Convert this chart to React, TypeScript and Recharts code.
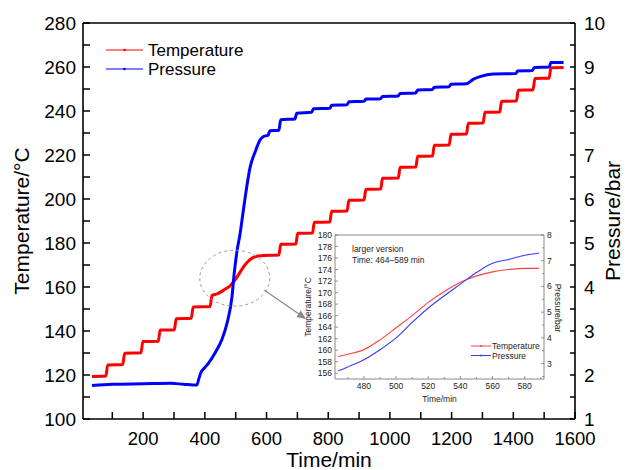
import React from 'react';
import { LineChart, Line, XAxis, YAxis, ReferenceLine, ReferenceDot } from 'recharts';

const FONT = '"Liberation Sans", Arial, Helvetica, sans-serif';

// main chart: temperature (°C) vs time (min)
const tempTime = [
  34, 79, 85, 134, 140, 193, 199, 249, 255, 301, 307, 356, 362, 417, 423,
  440, 455, 470, 480, 490, 500, 510, 520, 530, 540, 550, 560, 575, 590,
  640, 646, 695, 701, 749, 755, 805, 811, 861, 867, 916, 922, 970, 976, 1027, 1033,
  1084, 1090, 1138, 1144, 1192, 1198, 1248, 1254, 1302, 1308, 1356, 1362, 1410, 1416,
  1464, 1470, 1516, 1522, 1563,
];
const tempValue = [
  119.3, 119.5, 124.6, 124.8, 129.9, 130.1, 135.2, 135.3, 140.4, 140.5, 145.6, 145.8, 150.9, 151.1, 156.1,
  156.9, 158.0, 159.4, 160.3, 161.8, 163.6, 165.8, 168.0, 170.0, 171.6, 172.8, 173.6, 174.1, 174.3,
  174.5, 179.4, 179.5, 184.4, 184.5, 189.4, 189.5, 194.4, 194.5, 199.4, 199.5, 204.4, 204.5, 209.4, 209.5,
  214.4, 214.5, 219.4, 219.5, 224.4, 224.5, 229.4, 229.5, 234.4, 234.5, 239.4, 239.5, 244.4, 244.5,
  249.4, 249.6, 254.8, 254.9, 259.7, 259.8,
];

// main chart: pressure (bar) vs time (min)
const pressTime = [
  34, 100, 200, 290, 330, 374,
  380, 387, 400, 412, 433, 455, 472, 488, 495, 505, 514, 522, 530, 547, 563, 579, 590, 605, 611,
  640, 646, 692, 698, 746, 752, 805, 811, 861, 867, 916, 922, 970, 976, 1027, 1033,
  1084, 1090, 1138, 1144, 1192, 1198,
  1248, 1270, 1292, 1335,
  1408, 1414, 1462, 1468, 1516, 1522, 1563,
];
const pressValue = [
  1.76, 1.79, 1.8, 1.81, 1.79, 1.77,
  1.9, 2.05, 2.17, 2.27, 2.5, 2.8, 3.18, 3.78, 4.3, 4.85, 5.2, 5.6, 6.0, 6.73, 7.07, 7.34, 7.42, 7.45, 7.55,
  7.56, 7.8, 7.82, 7.95, 7.97, 8.05, 8.06, 8.13, 8.14, 8.21, 8.22, 8.27, 8.28, 8.33, 8.34, 8.4,
  8.41, 8.48, 8.49, 8.54, 8.55, 8.61,
  8.62, 8.72, 8.78, 8.84,
  8.85, 8.91, 8.92, 8.99, 9.0, 9.1, 9.1,
];

// inset: 464-589 min
const insetTime = [464, 470, 480, 490, 500, 510, 520, 530, 540, 550, 560, 570, 580, 589];
const insetTemp = [158.9, 159.3, 160.1, 161.8, 163.9, 166.0, 168.3, 170.2, 171.8, 172.9, 173.6, 174.0, 174.2, 174.2];
const insetPress = [2.72, 2.87, 3.15, 3.54, 4.0, 4.6, 5.16, 5.64, 6.09, 6.54, 6.9, 7.05, 7.21, 7.3];

const xTicks = [100, 200, 300, 400, 500, 600, 700, 800, 900, 1000, 1100, 1200, 1300, 1400, 1500, 1600];
const tempTicks = [100, 110, 120, 130, 140, 150, 160, 170, 180, 190, 200, 210, 220, 230, 240, 250, 260, 270, 280];
const pressTicks = [1, 1.5, 2, 2.5, 3, 3.5, 4, 4.5, 5, 5.5, 6, 6.5, 7, 7.5, 8, 8.5, 9, 9.5, 10];

const insetXTicks = [470, 480, 490, 500, 510, 520, 530, 540, 550, 560, 570, 580, 590];
const insetTempTicks = [156, 158, 160, 162, 164, 166, 168, 170, 172, 174, 176, 178, 180];
const insetPressTicks = [2.5, 3, 3.5, 4, 4.5, 5, 5.5, 6, 6.5, 7, 7.5, 8];

const zip = (ts: number[], vs: number[]) => ts.map((t, i) => ({ t, v: vs[i] }));
const tempData = zip(tempTime, tempValue);
const pressData = zip(pressTime, pressValue);
const insetTempData = zip(insetTime, insetTemp);
const insetPressData = zip(insetTime, insetPress);

const onStep = (v: number, step: number) => Math.abs(v / step - Math.round(v / step)) < 1e-6;

type TickOpts = { step: number; len: number; minor: number; size: number; gap: number; stroke: string; sw: number; color: string };

// inward ticks, labels outside
function makeTick(side: 'bottom' | 'left' | 'right', o: TickOpts) {
  return (p: any) => {
    const { x, y, payload } = p;
    const v = payload.value;
    const major = onStep(v, o.step);
    const l = major ? o.len : o.minor;
    let line;
    let label = null;
    if (side === 'bottom') {
      line = <line x1={x} x2={x} y1={y} y2={y - l} stroke={o.stroke} strokeWidth={o.sw} />;
      if (major) label = <text x={x} y={y + o.gap} textAnchor="middle" dominantBaseline="central" fontSize={o.size} fill={o.color} fontFamily={FONT}>{v}</text>;
    } else if (side === 'left') {
      line = <line x1={x} x2={x + l} y1={y} y2={y} stroke={o.stroke} strokeWidth={o.sw} />;
      if (major) label = <text x={x - o.gap} y={y} textAnchor="end" dominantBaseline="central" fontSize={o.size} fill={o.color} fontFamily={FONT}>{v}</text>;
    } else {
      line = <line x1={x} x2={x - l} y1={y} y2={y} stroke={o.stroke} strokeWidth={o.sw} />;
      if (major) label = <text x={x + o.gap} y={y} textAnchor="start" dominantBaseline="central" fontSize={o.size} fill={o.color} fontFamily={FONT}>{v}</text>;
    }
    return (
      <g>
        {line}
        {label}
      </g>
    );
  };
}

const mainBottomTick = makeTick('bottom', { step: 200, len: 7, minor: 7, size: 18.5, gap: 19, stroke: '#000', sw: 1.5, color: '#000' });
const mainLeftTick = makeTick('left', { step: 20, len: 7, minor: 7, size: 19, gap: 7, stroke: '#000', sw: 1.5, color: '#000' });
const mainRightTick = makeTick('right', { step: 1, len: 5, minor: 5, size: 19, gap: 9, stroke: '#000', sw: 1.5, color: '#000' });

const insetBottomTick = makeTick('bottom', { step: 20, len: 3, minor: 2, size: 8.5, gap: 7, stroke: '#777', sw: 0.8, color: '#222' });
const insetLeftTick = makeTick('left', { step: 2, len: 3, minor: 3, size: 8.5, gap: 3, stroke: '#777', sw: 0.8, color: '#222' });
const insetRightTick = makeTick('right', { step: 1, len: 3, minor: 2, size: 8.5, gap: 3, stroke: '#777', sw: 0.8, color: '#222' });

const Ellipse = (p: any) => (
  <ellipse cx={p.cx} cy={p.cy} rx={35} ry={28} fill="none" stroke="#999" strokeWidth={1} strokeDasharray="3 3" />
);

const Arrow = (p: any) => {
  const { x1, y1, x2, y2 } = p;
  const a = Math.atan2(y2 - y1, x2 - x1);
  const h = 9;
  const w = 4;
  const bx = x2 - h * Math.cos(a);
  const by = y2 - h * Math.sin(a);
  const px = -Math.sin(a) * w;
  const py = Math.cos(a) * w;
  return (
    <g>
      <line x1={x1} y1={y1} x2={bx} y2={by} stroke="#888" strokeWidth={1.2} />
      <polygon points={`${x2},${y2} ${bx + px},${by + py} ${bx - px},${by - py}`} fill="#888" />
    </g>
  );
};

export default function App() {
  return (
    <div style={{ position: 'absolute', left: 0, top: 0, width: 625, height: 470, background: '#fff', fontFamily: FONT }}>
      <LineChart width={625} height={470} margin={{ top: 23, right: 0, bottom: 0, left: 0 }}>
        <XAxis
          dataKey="t"
          type="number"
          domain={[5, 1600]}
          ticks={xTicks}
          interval={0}
          allowDataOverflow
          height={51}
          tickSize={0}
          tickMargin={0}
          tickLine={false}
          tick={mainBottomTick}
          axisLine={{ stroke: '#000', strokeWidth: 1.6 }}
          label={{ value: 'Time/min', position: 'insideBottom', offset: 3, fontSize: 21, fill: '#000' }}
        />
        <YAxis
          yAxisId="temp"
          type="number"
          domain={[100, 280]}
          ticks={tempTicks}
          interval={0}
          width={83}
          tickSize={0}
          tickMargin={0}
          tickLine={false}
          tick={mainLeftTick}
          axisLine={{ stroke: '#000', strokeWidth: 1.6 }}
          label={{ value: 'Temperature/°C', angle: -90, position: 'insideLeft', offset: 22, fontSize: 21, fill: '#000', style: { textAnchor: 'middle' } }}
        />
        <YAxis
          yAxisId="press"
          orientation="right"
          type="number"
          domain={[1, 10]}
          ticks={pressTicks}
          interval={0}
          width={50}
          tickSize={0}
          tickMargin={0}
          tickLine={false}
          tick={mainRightTick}
          axisLine={{ stroke: '#000', strokeWidth: 1.6 }}
          label={{ value: 'Pressure/bar', angle: -90, position: 'insideRight', offset: 12, fontSize: 21, fill: '#000', style: { textAnchor: 'middle' } }}
        />
        <ReferenceLine yAxisId="temp" y={280} stroke="#000" strokeWidth={1.6} />
        <Line yAxisId="temp" data={tempData} dataKey="v" type="monotone" stroke="#ff0000" strokeWidth={3} dot={false} isAnimationActive={false} />
        <Line yAxisId="press" data={pressData} dataKey="v" type="monotone" stroke="#0000ff" strokeWidth={3} dot={false} isAnimationActive={false} />
        <ReferenceDot yAxisId="temp" x={497} y={164} r={30} shape={Ellipse} />
        <ReferenceLine
          yAxisId="temp"
          segment={[{ x: 592, y: 158.6 }, { x: 728, y: 145.5 }]}
          shape={Arrow}
        />
      </LineChart>

      <div style={{ position: 'absolute', left: 300, top: 225 }}>
        <LineChart width={270} height={185} margin={{ top: 10, right: 0, bottom: 0, left: 0 }}>
          <XAxis
            dataKey="t"
            type="number"
            domain={[462, 592]}
            ticks={insetXTicks}
            interval={0}
            allowDataOverflow
            height={31}
            tickSize={0}
            tickMargin={0}
            tickLine={false}
            tick={insetBottomTick}
            axisLine={{ stroke: '#888', strokeWidth: 1 }}
            label={{ value: 'Time/min', position: 'insideBottom', offset: 8, fontSize: 8.5, fill: '#222' }}
          />
          <YAxis
            yAxisId="t"
            type="number"
            domain={[155, 180]}
            ticks={insetTempTicks}
            interval={0}
            width={35}
            tickSize={0}
            tickMargin={0}
            tickLine={false}
            tick={insetLeftTick}
            axisLine={{ stroke: '#888', strokeWidth: 1 }}
            label={{ value: 'Temperature/°C', angle: -90, position: 'insideLeft', offset: 8, fontSize: 8.5, fill: '#222', style: { textAnchor: 'middle' } }}
          />
          <YAxis
            yAxisId="p"
            orientation="right"
            type="number"
            domain={[2.4, 8]}
            ticks={insetPressTicks}
            interval={0}
            width={26}
            tickSize={0}
            tickMargin={0}
            tickLine={false}
            tick={insetRightTick}
            axisLine={{ stroke: '#888', strokeWidth: 1 }}
          />
          <ReferenceLine yAxisId="t" y={180} stroke="#888" strokeWidth={1} />
          <Line yAxisId="t" data={insetTempData} dataKey="v" type="monotone" stroke="#ff4040" strokeWidth={1.1} dot={false} isAnimationActive={false} />
          <Line yAxisId="p" data={insetPressData} dataKey="v" type="monotone" stroke="#3a3aff" strokeWidth={1.1} dot={false} isAnimationActive={false} />
        </LineChart>
      </div>

      <svg width={625} height={470} style={{ position: 'absolute', left: 0, top: 0, pointerEvents: 'none' }}>
        <g fontFamily={FONT}>
          <line x1={106} x2={143} y1={50} y2={50} stroke="#ff0000" strokeWidth={1.2} />
          <circle cx={124.5} cy={50} r={1.3} fill="#ff0000" />
          <text x={148} y={50} dominantBaseline="central" fontSize={17} fill="#000">Temperature</text>
          <line x1={106} x2={143} y1={69} y2={69} stroke="#0000ff" strokeWidth={1.2} />
          <circle cx={124.5} cy={69} r={1.3} fill="#0000ff" />
          <text x={148} y={69} dominantBaseline="central" fontSize={17} fill="#000">Pressure</text>

          <text x={352} y={249} dominantBaseline="central" fontSize={8.5} fill="#222">larger version</text>
          <text x={352} y={260} dominantBaseline="central" fontSize={8.5} fill="#222">Time: 464–589 min</text>

          <text transform="translate(558, 308) rotate(90)" textAnchor="middle" dominantBaseline="central" fontSize={8.5} fill="#222">Pressure/bar</text>

          <line x1={471} x2={491} y1={346} y2={346} stroke="#ff4040" strokeWidth={1} />
          <circle cx={481} cy={346} r={1} fill="#ff4040" />
          <text x={492} y={346} dominantBaseline="central" fontSize={8.5} fill="#222">Temperature</text>
          <line x1={471} x2={491} y1={355.5} y2={355.5} stroke="#3a3aff" strokeWidth={1} />
          <circle cx={481} cy={355.5} r={1} fill="#3a3aff" />
          <text x={492} y={355.5} dominantBaseline="central" fontSize={8.5} fill="#222">Pressure</text>
        </g>
      </svg>
    </div>
  );
}
